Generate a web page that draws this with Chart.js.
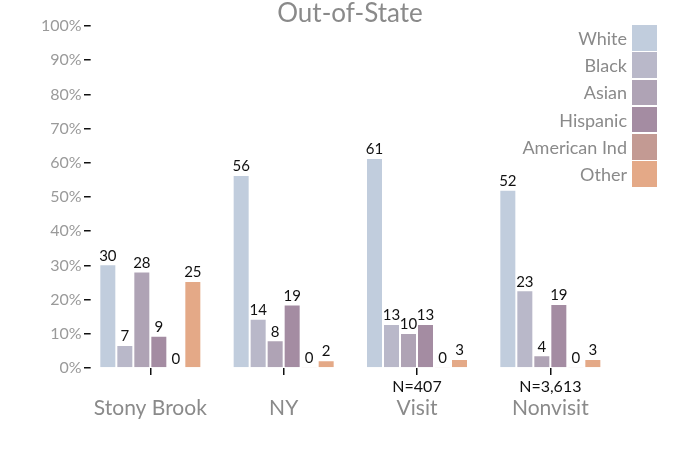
<!DOCTYPE html>
<html>
<head>
<meta charset="utf-8">
<script src="https://cdn.jsdelivr.net/npm/chart.js@4"></script>
<style>
  body { margin: 0; background: #fff; }
  .wrap { position: relative; width: 700px; height: 450px; }
  #legend { position: absolute; top: 25px; right: 43px; font-family: Lato, sans-serif; }
  .lg-item { display: flex; justify-content: flex-end; align-items: center; height: 25.5px; margin-bottom: 1.8px; }
  .lg-text { font-size: 18px; color: #8a8a8a; margin-right: 5px; }
  .lg-box  { width: 25px; height: 25.5px; }
</style>
</head>
<body>
<div class="wrap">
  <canvas id="chart" width="700" height="450"></canvas>
  <div id="legend"></div>
</div>
<script>
// ── DATA ─────────────────────────────────────────────────────────────────────
const categories = ['Stony Brook', 'NY', 'Visit', 'Nonvisit'];
const nLabels    = ['', '', 'N=407', 'N=3,613'];
const groups     = ['White', 'Black', 'Asian', 'Hispanic', 'American Ind', 'Other'];
const colors     = ['#c1cddd', '#b9b8c9', '#afa3b5', '#a48ca2', '#c39a93', '#e4a987'];

const white    = [30.3, 56.4, 61.4, 52.1];
const black    = [6.7, 14.4, 12.9, 22.7];
const asian    = [28.2, 8.1, 10.2, 3.7];
const hispanic = [9.4, 18.6, 12.9, 18.7];
const amInd    = [0.2, 0.3, 0.3, 0.3];
const other    = [25.4, 2.3, 2.6, 2.6];
const series   = [white, black, asian, hispanic, amInd, other];

const yTicks = [0, 10, 20, 30, 40, 50, 60, 70, 80, 90, 100];

// ── STYLE ────────────────────────────────────────────────────────────────────
const FONT = 'Lato';
const GREY = '#8a8a8a';

// ── VALUE LABELS ─────────────────────────────────────────────────────────────
const valueLabels = {
  id: 'valueLabels',
  afterDatasetsDraw(chart) {
    const ctx = chart.ctx;
    ctx.save();
    ctx.font = `15px ${FONT}`;
    ctx.fillStyle = '#111';
    ctx.textAlign = 'center';
    ctx.textBaseline = 'bottom';
    chart.data.datasets.forEach((ds, i) => {
      chart.getDatasetMeta(i).data.forEach((bar, j) => {
        ctx.fillText(Math.round(ds.data[j]), bar.x, bar.y - 1);
      });
    });
    ctx.restore();
  }
};

// ── CHART ────────────────────────────────────────────────────────────────────
const chart = new Chart(document.getElementById('chart'), {
  type: 'bar',
  data: {
    labels: categories,
    datasets: groups.map((g, i) => ({
      label: g,
      data: series[i],
      backgroundColor: colors[i],
      borderColor: 'rgba(255,255,255,0.55)',
      borderWidth: 1,
      categoryPercentage: 0.765,
      barPercentage: 1,
    })),
  },
  options: {
    responsive: false,
    animation: false,
    layout: { padding: { left: 32, right: 32, bottom: 30.8, top: 0 } },
    plugins: {
      legend: { display: false },
      tooltip: { enabled: false },
      title: {
        display: true, text: 'Out-of-State', color: GREY,
        font: { family: FONT, size: 26, weight: 'normal', lineHeight: 0.96 },
        padding: { top: 1, bottom: 0 },
      },
    },
    scales: {
      x: {
        border: { display: false },
        grid: { drawOnChartArea: false, offset: false, color: '#111', lineWidth: 1.5, tickLength: 7 },
        ticks: {
          color: '#111', padding: 2, maxRotation: 0,
          font: { family: FONT, size: 16 },
          callback: (v, i) => nLabels[i],
        },
      },
      x2: {
        type: 'category',
        position: 'bottom',
        labels: categories,
        border: { display: false },
        grid: { display: false, drawTicks: false },
        ticks: { color: GREY, padding: 0, maxRotation: 0, font: { family: FONT, size: 21, lineHeight: 1.0 } },
      },
      y: {
        min: 0, max: 100,
        border: { display: false },
        grid: { drawOnChartArea: false, color: '#111', lineWidth: 1.5, tickLength: -7 },
        afterBuildTicks: s => { s.ticks = yTicks.map(v => ({ value: v })); },
        ticks: {
          color: '#9a9a9a', padding: 9,
          font: { family: FONT, size: 16 },
          callback: v => v + '%',
        },
      },
      // empty right gutter so the title stays centred on the page
      gutter: {
        type: 'linear',
        position: 'right',
        border: { display: false },
        grid: { display: false },
        ticks: { display: false },
        afterFit: s => { s.width = 51; },
      },
    },
  },
  plugins: [valueLabels],
});

// ── LEGEND ───────────────────────────────────────────────────────────────────
document.getElementById('legend').innerHTML = chart.data.datasets.map(ds => `
  <div class="lg-item">
    <span class="lg-text">${ds.label}</span>
    <span class="lg-box" style="background:${ds.backgroundColor}"></span>
  </div>`).join('');
</script>
</body>
</html>
